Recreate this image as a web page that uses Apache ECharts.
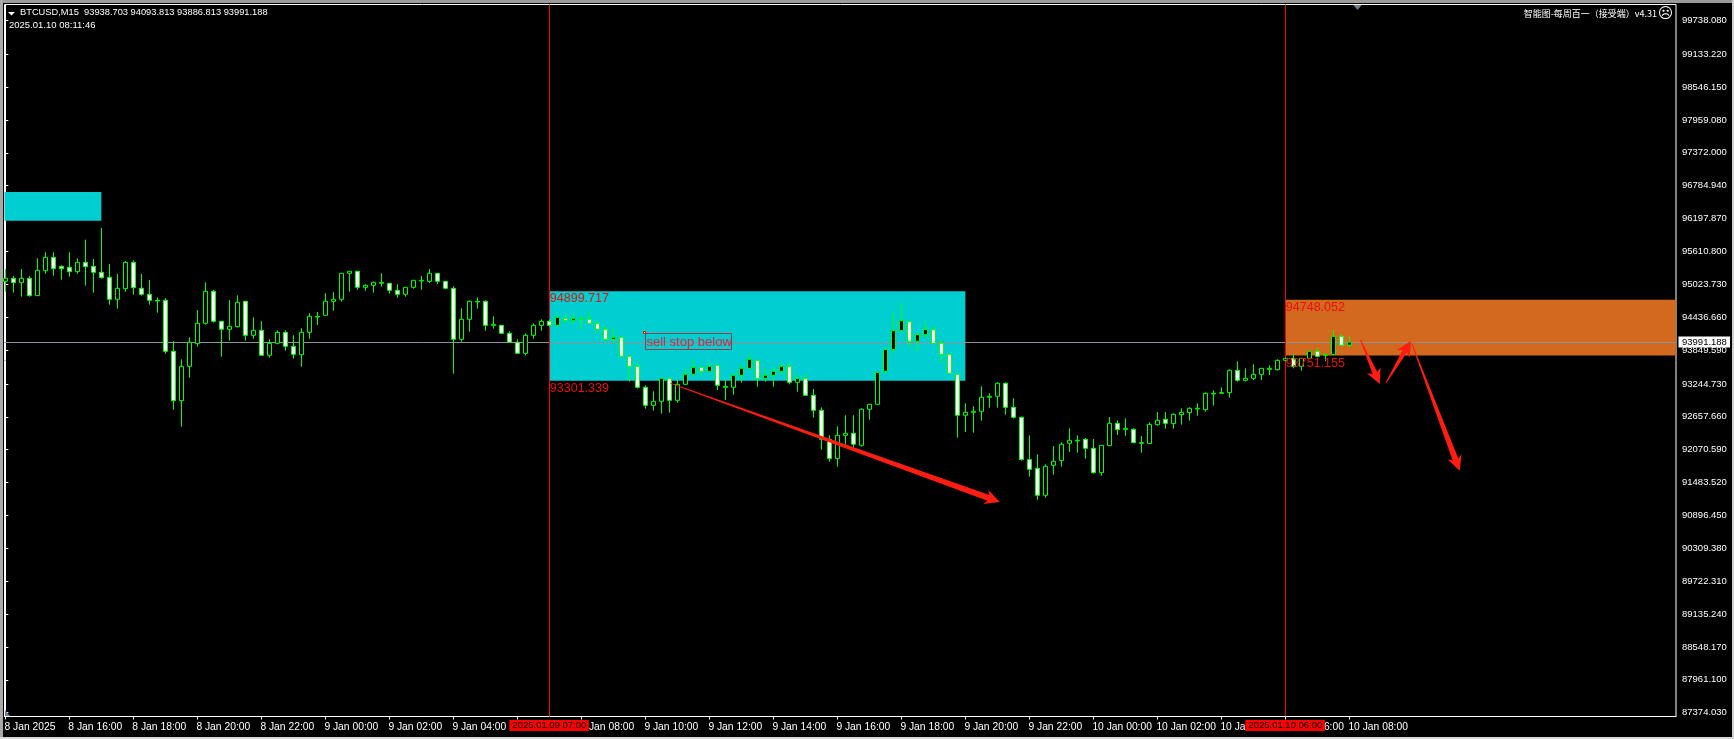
<!DOCTYPE html>
<html><head><meta charset="utf-8"><style>html,body{margin:0;padding:0;background:#000}#c{width:1734px;height:739px}</style></head><body><div id="c"></div>
<script src="https://cdn.jsdelivr.net/npm/echarts@6/dist/echarts.min.js"></script>
<script>
const opens=[95077,95131,95053,95131,94821,95267,95505,95345,95327,95250,95416,95345,95238,95148,94756,94946,95416,94952,94845,94738,94738,93827,92946,93559,93964,94327,94898,94363,94220,94267,94720,94113,94202,93756,93970,94166,93916,93767,94166,94440,94470,94720,94756,95220,95256,94970,95005,95041,95041,94916,94845,94970,95083,95077,95220,95077,94952,94041,94398,94708,94720,94291,94291,94148,93988,93791,94113,94291,94363,94291,94416,94381,94405,94399,94327,94220,94042,94077,93738,93559,93184,92863,92934,93345,92952,93238,93417,93541,93470,93577,93184,93184,93399,93524,93666,93345,93399,93470,93559,93274,93345,93042,92774,92256,91911,92327,92363,92149,92792,92881,93470,93857,94196,94357,94006,94125,94214,93970,93774,93417,92685,92738,92756,93006,93024,93256,92827,92649,91893,91738,91256,91792,91875,92185,92226,92255,92095,91660,92142,92541,92434,92434,92184,92178,92517,92613,92535,92696,92732,92797,92785,93065,93077,93089,93487,93309,93345,93416,93505,93499,93666,93702,93559,93702,93827,93755,93773,94095,93938.703];
const closes=[95131,95053,95131,94821,95273,95505,95303,95303,95250,95416,95339,95238,95142,94756,94952,95416,94964,94845,94738,94726,93827,92946,93559,93988,94327,94898,94363,94220,94273,94702,94113,94202,93756,93970,94166,93916,93773,94166,94452,94452,94720,94756,95220,95256,94970,95005,95059,95059,94916,94845,94970,95095,95095,95220,95077,94952,94041,94398,94720,94720,94291,94309,94148,93988,93791,94113,94291,94363,94291,94434,94381,94416,94416,94327,94220,94042,94077,93738,93559,93184,92863,92934,93345,92952,93238,93417,93541,93470,93559,93220,93202,93399,93524,93684,93345,93399,93470,93559,93274,93345,93042,92774,92256,91911,92327,92363,92167,92792,92881,93452,93857,94196,94375,94006,94125,94214,93970,93774,93435,92685,92738,92756,93006,93024,93256,92827,92649,91893,91720,91256,91774,91863,92167,92238,92238,92095,91660,92148,92541,92428,92452,92196,92196,92523,92595,92541,92702,92738,92809,92809,93077,93077,93089,93487,93309,93345,93416,93523,93523,93666,93702,93559,93702,93827,93737,93773,94095,93934,93991.188];
const highs=[95297,95172,95297,95172,95488,95595,95595,95363,95595,95488,95821,95476,96029,95386,95208,95440,95452,95208,95101,94791,94773,94006,93684,94077,94565,95059,94922,94369,94744,94827,94720,94434,94363,94041,94202,94202,94113,94238,94506,94529,94863,94881,95220,95256,95256,95023,95071,95220,95041,95023,94970,95095,95172,95297,95220,95077,94988,94595,94738,94791,94738,94452,94291,94184,94041,94148,94327,94398,94398,94476,94494,94494,94470,94541,94363,94291,94250,94077,93738,93631,93220,93113,93345,93345,93315,93524,93672,93541,93613,93577,93315,93417,93595,93791,93684,93524,93541,93613,93613,93417,93417,93155,92827,92327,92488,92685,92685,92810,92881,93452,93863,94518,94684,94357,94167,94357,94268,94042,93792,93417,92899,92845,93202,93077,93274,93274,92988,92661,92327,91988,91810,92137,92202,92452,92327,92279,92261,92148,92654,92595,92630,92452,92315,92559,92744,92744,92720,92809,92827,92898,93095,93130,93184,93505,93648,93523,93595,93523,93577,93684,93714,93773,93702,93827,93880,93791,94208,94130,94093.813];
const lows=[94892,94875,94803,94803,94821,95214,95178,95107,95160,95214,95000,94875,95125,94660,94589,94892,94839,94821,94660,94517,93785,92785,92482,93357,93910,94303,94339,93732,94017,94250,94017,94053,93750,93714,93952,93839,93696,93553,94053,94297,94470,94553,94714,94892,94928,94910,94875,94982,94857,94785,94803,94946,94928,95047,95029,94934,93428,93999,94178,94589,94196,94232,94142,93988,93785,93750,94053,94196,94267,94268,94327,94309,94226,94327,94149,94006,93988,93732,93286,93161,92803,92768,92714,92732,92911,93232,93405,93393,93470,93137,92958,93053,93268,93524,93196,93286,93196,93417,93238,93107,93036,92643,92071,91857,91768,92161,92095,92125,92607,92869,93435,93792,94167,93893,93827,94059,93952,93613,93423,92286,92387,92375,92589,92821,92821,92696,92625,91875,91589,91179,91214,91625,91768,92030,92018,91910,91642,91607,92142,92333,92321,92184,92017,92178,92499,92446,92446,92517,92589,92678,92749,92857,93071,93000,93285,93291,93315,93315,93404,93482,93648,93523,93482,93684,93720,93648,93761,93916,93886.813];

const yTickValues=[99738.08,99133.22,98546.15,97959.08,97372,96784.94,96197.87,95610.8,95023.73,94436.66,93849.59,93244.73,92657.66,92070.59,91483.52,90896.45,90309.38,89722.31,89135.24,88548.17,87961.1,87374.03];
const xTickIndex=[0,8,16,24,32,40,48,56,64,72,80,88,96,104,112,120,128,136,144,152,160,168];
const xTickLabels=['8 Jan 2025','8 Jan 16:00','8 Jan 18:00','8 Jan 20:00','8 Jan 22:00','9 Jan 00:00','9 Jan 02:00','9 Jan 04:00','9 Jan 06:00','9 Jan 08:00','9 Jan 10:00','9 Jan 12:00','9 Jan 14:00','9 Jan 16:00','9 Jan 18:00','9 Jan 20:00','9 Jan 22:00','10 Jan 00:00','10 Jan 02:00','10 Jan 04:00','10 Jan 06:00','10 Jan 08:00'];
const bidPrice=93991.188;
const timeLines=[[68,'2025.01.09 07:00'],[160,'2025.01.10 06:00']];
const zones=[[-0.104,12,96672,96160,'#00CED1'],[68,120,94899.717,93301.339,'#00CED1'],[160,208.83,94748.052,93751.155,'#D2691E']];
const priceTexts=[[68,94899.717],[68,93301.339],[160,94748.052],[160,93751.155]];
const arrows=[[83.1,93261,124.3,91136,6],[169.4,94029,171.8,93243,5],[172.55,93256,175.7,94011,5],[175.8,93970,181.8,91695,6]];
const noteText=['sell stop below',80.07,94130];

const font='"Liberation Sans",Arial,sans-serif';
const xMin=-0.104,xMax=208.83,yMin=87306,yMax=100020;
const chart=echarts.init(document.getElementById('c'),null,{renderer:'canvas'});
const candleData=opens.map((o,i)=>[i,o,closes[i],lows[i],highs[i]]);

function overlay(name,z,data,renderItem,clip){
  return {type:'custom',name,z,data,renderItem,silent:true,clip:!!clip,animation:false,encode:{x:0,y:1}};
}
chart.setOption({
  animation:false,backgroundColor:'#000',
  grid:{left:4.5,right:58,top:4.5,bottom:22.5,show:true,backgroundColor:'#000',borderColor:'#fff',borderWidth:1},
  xAxis:{type:'value',min:xMin,max:xMax,splitLine:{show:false},
    axisLine:{lineStyle:{color:'#fff',width:1}},
    axisTick:{show:true,length:3,inside:false,customValues:xTickIndex,lineStyle:{color:'#fff'}},
    axisLabel:{customValues:xTickIndex.map(v=>Math.max(v-0.12,xMin)),color:'#fff',fontFamily:font,fontSize:10.3,align:'left',margin:6,
      formatter:v=>xTickLabels[xTickIndex.indexOf(Math.round(v))]||''}},
  yAxis:{type:'value',position:'right',min:yMin,max:yMax,scale:true,splitLine:{show:false},
    axisLine:{show:true,lineStyle:{color:'#fff',width:1}},
    axisTick:{show:true,length:3,customValues:yTickValues,lineStyle:{color:'#fff'}},
    axisLabel:{customValues:yTickValues,color:'#fff',fontFamily:font,fontSize:9.5,margin:6,align:'left',formatter:v=>v.toFixed(3)}},
  graphic:[
    {type:'rect',z:100,shape:{x:0,y:0,width:1734,height:3},style:{fill:'#9a9a9a'}},
    {type:'rect',z:100,shape:{x:0,y:0,width:3,height:739},style:{fill:'#a8a8a8'}},
    {type:'rect',z:100,shape:{x:0,y:737,width:1734,height:2},style:{fill:'#d8d8d8'}},
    {type:'rect',z:100,shape:{x:1732,y:0,width:2,height:739},style:{fill:'#d0d0d0'}},
    {type:'polygon',z:100,shape:{points:[[8,12],[15,12],[11.5,15.5]]},style:{fill:'#fff'}},
    {type:'text',z:100,x:20,y:12.5,style:{text:'BTCUSD,M15  93938.703 94093.813 93886.813 93991.188',fill:'#fff',font:'9.3px '+font,verticalAlign:'middle'}},
    {type:'text',z:100,x:9,y:25.5,style:{text:'2025.01.10 08:11:46',fill:'#fff',font:'9.5px '+font,verticalAlign:'middle'}},
    {type:'text',z:100,x:1657,y:14,style:{text:'智能图-每周百一（接受端）v4.31',fill:'#fff',font:'9px "Noto Sans CJK SC",'+font,align:'right',verticalAlign:'middle'}},
    {type:'text',z:100,x:1665.5,y:14,style:{text:'☹',fill:'#fff',font:'15px "DejaVu Sans"',align:'center',verticalAlign:'middle'}},
    {type:'polygon',z:100,shape:{points:[[1353.3,5],[1361.7,5],[1357.5,10]]},style:{fill:'#708090'}},
    {type:'polygon',z:100,shape:{points:[[5,710],[5,716],[10,716]]},style:{fill:'#708090'}}
  ],
  series:[
    overlay('zones',1,zones.map(d=>[d[0],d[2],d[1],d[3],d[4]]),(p,api)=>{
      const a=api.coord([api.value(0),api.value(1)]),b=api.coord([api.value(2),api.value(3)]);
      return {type:'rect',shape:{x:a[0],y:a[1],width:b[0]-a[0],height:b[1]-a[1]},style:{fill:zones[p.dataIndex][4]}};
    }),
    overlay('bid',2,[[xMin,bidPrice]],(p,api)=>{
      const a=api.coord([xMin,bidPrice]),b=api.coord([xMax,bidPrice]);
      const y=Math.round(a[1])+0.5;
      return {type:'line',shape:{x1:a[0],y1:y,x2:b[0],y2:y},style:{stroke:'#8a929b',lineWidth:1}};
    }),
    overlay('timeLines',2,timeLines.map(d=>[d[0],yMin]),(p,api)=>{
      const a=api.coord([api.value(0),yMin]),b=api.coord([api.value(0),yMax]);
      const x=Math.round(a[0])+0.5;
      return {type:'line',shape:{x1:x,y1:a[1],x2:x,y2:b[1]},style:{stroke:'#ff0000',lineWidth:1}};
    }),
    {type:'candlestick',name:'BTCUSD,M15',z:3,data:candleData,barWidth:5,clip:true,large:false,animation:false,
      itemStyle:{color:'#000',color0:'#fff',borderColor:'#00ff00',borderColor0:'#00ff00',borderColorDoji:'#00ff00',borderWidth:1}},
    overlay('arrows',5,arrows.map(d=>d.slice(0,4)),(p,api)=>{
      const a=api.coord([api.value(0),api.value(1)]),b=api.coord([api.value(2),api.value(3)]);
      const w=arrows[p.dataIndex][4];
      const dx=b[0]-a[0],dy=b[1]-a[1],L=Math.hypot(dx,dy),ux=dx/L,uy=dy/L,nx=-uy,ny=ux;
      const at=(t,s)=>[b[0]-ux*t+nx*s,b[1]-uy*t+ny*s];
      return {type:'polygon',shape:{points:[[a[0]+nx*0.4,a[1]+ny*0.4],at(12,w/2),at(15,7.5),[b[0],b[1]],at(15,-7.5),at(12,-w/2),[a[0]-nx*0.4,a[1]-ny*0.4]]},style:{fill:'#ff1c12'}};
    }),
    overlay('priceTexts',6,priceTexts,(p,api)=>{
      const a=api.coord([api.value(0),api.value(1)]);
      return {type:'text',x:a[0]+0.5,y:a[1]+1,style:{text:String(priceTexts[p.dataIndex][1].toFixed(3)),fill:'#e8100c',font:'12.5px '+font,verticalAlign:'top'}};
    }),
    overlay('note',6,[[noteText[1],noteText[2]]],(p,api)=>{
      const a=api.coord([api.value(0),api.value(1)]);
      return {type:'group',children:[
        {type:'rect',shape:{x:Math.round(a[0])-0.5,y:Math.round(a[1])-0.5,width:86,height:16},style:{fill:null,stroke:'#a03a48',lineWidth:1}},
        {type:'rect',shape:{x:Math.round(a[0])-2.5,y:Math.round(a[1])-2.5,width:2,height:2},style:{fill:'#fff',stroke:'#ff0000',lineWidth:1}},
        {type:'text',x:Math.round(a[0])+0.5,y:Math.round(a[1])+8,style:{text:noteText[0],fill:'#e8203c',font:'13px '+font,verticalAlign:'middle'}}
      ]};
    }),
    overlay('bidBox',8,[[xMax,bidPrice]],(p,api)=>{
      const a=api.coord([xMax,bidPrice]);
      return {type:'group',children:[
        {type:'rect',shape:{x:a[0]+2.5,y:a[1]-5.5,width:51.5,height:11},style:{fill:'#fff'}},
        {type:'text',x:a[0]+6,y:a[1],style:{text:bidPrice.toFixed(3),fill:'#000',font:'9.5px '+font,verticalAlign:'middle'}}
      ]};
    }),
    overlay('timeBoxes',8,timeLines.map(d=>[d[0],yMin]),(p,api)=>{
      const a=api.coord([api.value(0),yMin]);
      return {type:'group',children:[
        {type:'rect',shape:{x:a[0]-40,y:a[1]+3.5,width:79.5,height:11},style:{fill:'#ff0000'}},
        {type:'text',x:a[0],y:a[1]+9.2,style:{text:timeLines[p.dataIndex][1],fill:'#000',font:'9.5px '+font,align:'center',verticalAlign:'middle'}}
      ]};
    })
  ]
});
</script></body></html>
